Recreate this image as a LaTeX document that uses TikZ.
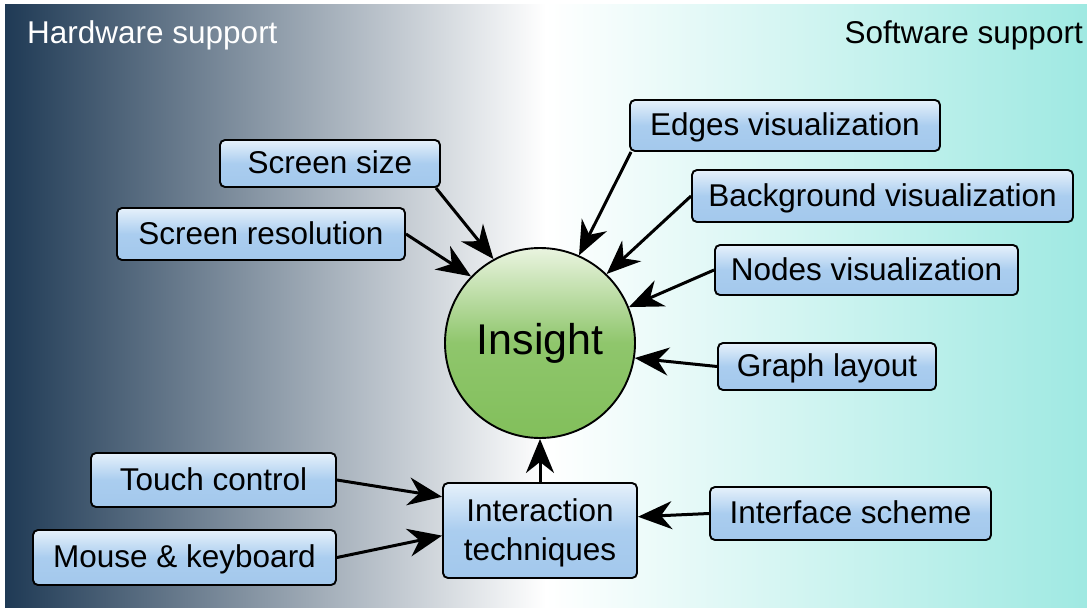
\documentclass[tikz,border=0pt]{standalone}
\usepackage{fontspec}
\setmainfont{Liberation Sans}
\usetikzlibrary{arrows.meta,positioning,shapes.geometric,calc}
\definecolor{HwDark}{HTML}{1F3A55}
\definecolor{SwCyan}{HTML}{9FE9E2}
\definecolor{BoxTop}{HTML}{E6F1FB}
\definecolor{BoxMid}{HTML}{AACDEF}
\definecolor{BoxBot}{HTML}{A3C8EC}
\definecolor{OrbTop}{HTML}{EAF4E0}
\definecolor{OrbMid}{HTML}{8FC66C}
\definecolor{OrbBot}{HTML}{82BF5B}

\begin{document}
\begin{tikzpicture}[x=1pt, y=-1pt,
  box/.style={rounded corners=5pt, draw=black, line width=1.9pt,
              top color=BoxTop, bottom color=BoxBot, middle color=BoxMid,
              align=center, inner sep=0pt, text height=23pt, text depth=3pt,
              font=\fontsize{31.5}{39}\selectfont},
  orb/.style={circle, draw=black, line width=1.9pt, minimum size=190pt, inner sep=0pt,
              top color=OrbTop, bottom color=OrbBot, middle color=OrbMid,
              font=\fontsize{43}{50}\selectfont},
  side/.style={inner sep=0pt, font=\fontsize{31.5}{39}\selectfont},
  arr/.style={-{Stealth[length=34pt, width=28pt, inset=11pt]}, line width=3pt}]
  \useasboundingbox (0,0) rectangle (1087,610);
  \shade[left color=HwDark, right color=SwCyan, middle color=white] (5,5) rectangle (1087,607);
  \node[side, white, anchor=base west] (hw) at (27,44) {Hardware support};
  \node[side, anchor=base east] (sw) at (1083,44) {Software support};
  \node[orb] (insight) at (540,343) {Insight};
  \node[box, minimum width=220pt, minimum height=47pt] (scrsize) at (330,163.5) {Screen size};
  \node[box, minimum width=288pt, minimum height=52pt] (scrres) at (261,234) {Screen resolution};
  \node[box, minimum width=310pt, minimum height=51pt] (edges) at (785,125.5) {Edges visualization};
  \node[box, minimum width=381pt, minimum height=52pt] (bgvis) at (882.5,196) {Background visualization};
  \node[box, minimum width=303pt, minimum height=50pt] (nodesvis) at (866.5,270) {Nodes visualization};
  \node[box, minimum width=218pt, minimum height=47pt] (layout) at (827,366.5) {Graph layout};
  \node[box, minimum width=194pt, minimum height=95pt, text height=62pt] (inter) at (540,530.5) {Interaction\\techniques};
  \node[box, minimum width=281pt, minimum height=53pt] (iface) at (850.5,513.5) {Interface scheme};
  \node[box, minimum width=245pt, minimum height=54pt] (touch) at (213.5,480) {Touch control};
  \node[box, minimum width=303pt, minimum height=55pt] (mouse) at (184.5,557.5) {Mouse \& keyboard};
  \draw[arr] ([xshift=-5pt]scrsize.south east) -- (insight.119);
  \draw[arr] (scrres.east) -- (insight.136);
  \draw[arr] ([xshift=2pt]edges.south west) -- (insight.66);
  \draw[arr] (bgvis.west) -- (insight.46);
  \draw[arr] (nodesvis.west) -- (insight.22);
  \draw[arr] (layout.west) -- (insight.-9);
  \draw[arr] (inter.north) -- (insight.south);
  \draw[arr] (touch.east) -- (inter.161);
  \draw[arr] (mouse.east) -- (inter.183);
  \draw[arr] (iface.west) -- (inter.8);
\end{tikzpicture}
\end{document}
